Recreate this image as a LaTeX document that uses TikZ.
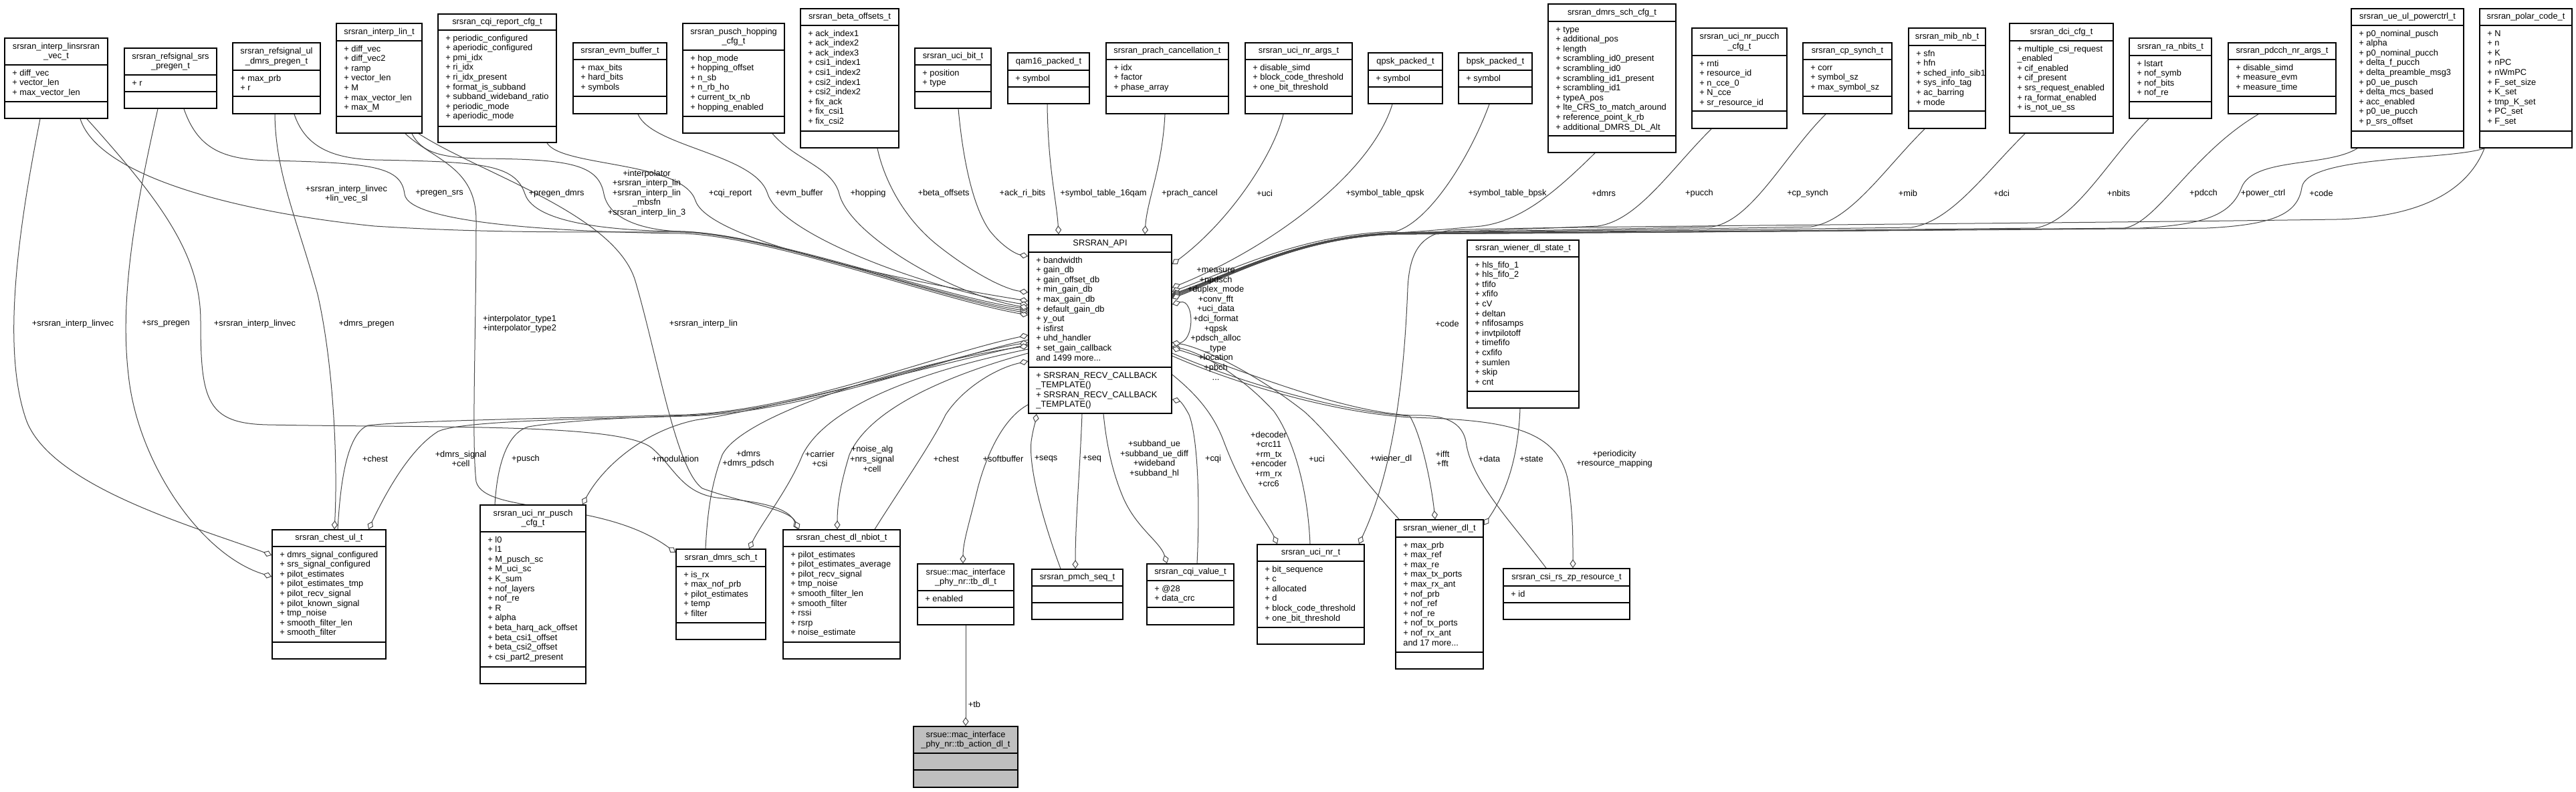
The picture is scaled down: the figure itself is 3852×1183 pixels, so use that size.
\documentclass[tikz,border=0pt]{standalone}
\usepackage{fontspec}
\setmainfont{Liberation Sans}
\usetikzlibrary{arrows.meta,calc,fit}
\pgfdeclarelayer{edges}
\pgfsetlayers{edges,main}
\newcommand\umlfont{\fontsize{6.4pt}{7.3pt}\selectfont}
\tikzset{
  classbox/.style={draw=black, line width=0.8pt, fill=white, inner sep=0pt},
  classsep/.style={draw=black, line width=0.8pt},
  classtitle/.style={align=center, inner sep=0pt, font=\umlfont},
  classattr/.style={align=left, inner sep=0pt, font=\umlfont, anchor=north west},
  elabel/.style={align=center, inner sep=0pt, font=\umlfont},
  edge/.style={draw=black!72, line width=0.5pt},
  agg/.style={edge, -{Diamond[fill=white,length=6.5pt,width=4.6pt]}},
}
% #1 name, #2 x1, #3 y1, #4 x2, #5 y2, #6 sep1, #7 sep2, #8 title, #9 attributes
\newcommand\umlbox[9]{%
  \node[classbox, fit={(#2,#3) (#4,#5)}] (#1) {};
  \draw[classsep] (#2,#6) -- (#4,#6) (#2,#7) -- (#4,#7);
  \node[classtitle] (#1-t) at ($(#2,#3)!0.5!(#4,#6)$) {#8};
  \node[classattr] (#1-a) at (#2+11,#6+5.5) {\strut#9};
}
\begin{document}
\begin{tikzpicture}[x=0.5pt,y=-0.5pt]
\useasboundingbox (0,0) rectangle (3852,1183);

% ---------------- top row ----------------
\umlbox{vec}{7}{57}{161}{177}{97}{152}{srsran\_interp\_linsrsran\\\_vec\_t}{+ diff\_vec\\+ vector\_len\\+ max\_vector\_len}
\umlbox{srspregen}{186}{72}{324}{162}{112}{137}{srsran\_refsignal\_srs\\\_pregen\_t}{+ r}
\umlbox{dmrspregen}{348}{64}{479}{170}{105}{144}{srsran\_refsignal\_ul\\\_dmrs\_pregen\_t}{+ max\_prb\\+ r}
\umlbox{interplin}{503}{35}{631}{199}{61}{174}{srsran\_interp\_lin\_t}{+ diff\_vec\\+ diff\_vec2\\+ ramp\\+ vector\_len\\+ M\\+ max\_vector\_len\\+ max\_M}
\umlbox{cqirep}{655}{21}{832}{213}{45}{189}{srsran\_cqi\_report\_cfg\_t}{+ periodic\_configured\\+ aperiodic\_configured\\+ pmi\_idx\\+ ri\_idx\\+ ri\_idx\_present\\+ format\_is\_subband\\+ subband\_wideband\_ratio\\+ periodic\_mode\\+ aperiodic\_mode}
\umlbox{evm}{857}{64}{997}{170}{89}{144}{srsran\_evm\_buffer\_t}{+ max\_bits\\+ hard\_bits\\+ symbols}
\umlbox{hopping}{1021}{35}{1173}{199}{75}{174}{srsran\_pusch\_hopping\\\_cfg\_t}{+ hop\_mode\\+ hopping\_offset\\+ n\_sb\\+ n\_rb\_ho\\+ current\_tx\_nb\\+ hopping\_enabled}
\umlbox{beta}{1197}{13}{1344}{221}{38}{196}{srsran\_beta\_offsets\_t}{+ ack\_index1\\+ ack\_index2\\+ ack\_index3\\+ csi1\_index1\\+ csi1\_index2\\+ csi2\_index1\\+ csi2\_index2\\+ fix\_ack\\+ fix\_csi1\\+ fix\_csi2}
\umlbox{ucibit}{1368}{72}{1482}{162}{97}{137}{srsran\_uci\_bit\_t}{+ position\\+ type}
\umlbox{qam16}{1507}{79}{1629}{155}{105}{130}{qam16\_packed\_t}{+ symbol}
\umlbox{prach}{1654}{64}{1837}{170}{89}{144}{srsran\_prach\_cancellation\_t}{+ idx\\+ factor\\+ phase\_array}
\umlbox{ucinrargs}{1862}{64}{2022}{170}{89}{144}{srsran\_uci\_nr\_args\_t}{+ disable\_simd\\+ block\_code\_threshold\\+ one\_bit\_threshold}
\umlbox{qpsk}{2046}{79}{2157}{155}{105}{130}{qpsk\_packed\_t}{+ symbol}
\umlbox{bpsk}{2181}{79}{2291}{155}{105}{130}{bpsk\_packed\_t}{+ symbol}
\umlbox{dmrsschcfg}{2315}{6}{2506}{228}{32}{203}{srsran\_dmrs\_sch\_cfg\_t}{+ type\\+ additional\_pos\\+ length\\+ scrambling\_id0\_present\\+ scrambling\_id0\\+ scrambling\_id1\_present\\+ scrambling\_id1\\+ typeA\_pos\\+ lte\_CRS\_to\_match\_around\\+ reference\_point\_k\_rb\\+ additional\_DMRS\_DL\_Alt}
\umlbox{pucchcfg}{2530}{42}{2672}{192}{83}{166}{srsran\_uci\_nr\_pucch\\\_cfg\_t}{+ rnti\\+ resource\_id\\+ n\_cce\_0\\+ N\_cce\\+ sr\_resource\_id}
\umlbox{cpsynch}{2696}{64}{2829}{170}{89}{144}{srsran\_cp\_synch\_t}{+ corr\\+ symbol\_sz\\+ max\_symbol\_sz}
\umlbox{mib}{2854}{42}{2969}{192}{68}{166}{srsran\_mib\_nb\_t}{+ sfn\\+ hfn\\+ sched\_info\_sib1\\+ sys\_info\_tag\\+ ac\_barring\\+ mode}
\umlbox{dcicfg}{3005}{35}{3160}{199}{61}{174}{srsran\_dci\_cfg\_t}{+ multiple\_csi\_request\\\_enabled\\+ cif\_enabled\\+ cif\_present\\+ srs\_request\_enabled\\+ ra\_format\_enabled\\+ is\_not\_ue\_ss}
\umlbox{ranbits}{3184}{57}{3307}{177}{83}{152}{srsran\_ra\_nbits\_t}{+ lstart\\+ nof\_symb\\+ nof\_bits\\+ nof\_re}
\umlbox{pdcchargs}{3332}{64}{3493}{170}{89}{144}{srsran\_pdcch\_nr\_args\_t}{+ disable\_simd\\+ measure\_evm\\+ measure\_time}
\umlbox{powerctrl}{3516}{13}{3684}{221}{38}{196}{srsran\_ue\_ul\_powerctrl\_t}{+ p0\_nominal\_pusch\\+ alpha\\+ p0\_nominal\_pucch\\+ delta\_f\_pucch\\+ delta\_preamble\_msg3\\+ p0\_ue\_pusch\\+ delta\_mcs\_based\\+ acc\_enabled\\+ p0\_ue\_pucch\\+ p\_srs\_offset}
\umlbox{polar}{3708}{13}{3846}{221}{38}{196}{srsran\_polar\_code\_t}{+ N\\+ n\\+ K\\+ nPC\\+ nWmPC\\+ F\_set\_size\\+ K\_set\\+ tmp\_K\_set\\+ PC\_set\\+ F\_set}

% ---------------- middle ----------------
\umlbox{api}{1538}{351}{1752}{618}{377}{549}{SRSRAN\_API}{+ bandwidth\\+ gain\_db\\+ gain\_offset\_db\\+ min\_gain\_db\\+ max\_gain\_db\\+ default\_gain\_db\\+ y\_out\\+ isfirst\\+ uhd\_handler\\+ set\_gain\_callback\\and 1499 more...}
\node[classattr] (api-m) at (1549,554.5) {\strut+ SRSRAN\_RECV\_CALLBACK\\\_TEMPLATE()\\+ SRSRAN\_RECV\_CALLBACK\\\_TEMPLATE()};
\umlbox{wstate}{2194}{359}{2361}{610}{384}{585}{srsran\_wiener\_dl\_state\_t}{+ hls\_fifo\_1\\+ hls\_fifo\_2\\+ tfifo\\+ xfifo\\+ cV\\+ deltan\\+ nfifosamps\\+ invtpilotoff\\+ timefifo\\+ cxfifo\\+ sumlen\\+ skip\\+ cnt}

% ---------------- bottom ----------------
\umlbox{chestul}{407}{792}{577}{985}{817}{960}{srsran\_chest\_ul\_t}{+ dmrs\_signal\_configured\\+ srs\_signal\_configured\\+ pilot\_estimates\\+ pilot\_estimates\_tmp\\+ pilot\_recv\_signal\\+ pilot\_known\_signal\\+ tmp\_noise\\+ smooth\_filter\_len\\+ smooth\_filter}
\umlbox{puschcfg}{718}{755}{876}{1022}{795}{997}{srsran\_uci\_nr\_pusch\\\_cfg\_t}{+ l0\\+ l1\\+ M\_pusch\_sc\\+ M\_uci\_sc\\+ K\_sum\\+ nof\_layers\\+ nof\_re\\+ R\\+ alpha\\+ beta\_harq\_ack\_offset\\+ beta\_csi1\_offset\\+ beta\_csi2\_offset\\+ csi\_part2\_present}
\umlbox{dmrssch}{1011}{821}{1145}{956}{847}{931}{srsran\_dmrs\_sch\_t}{+ is\_rx\\+ max\_nof\_prb\\+ pilot\_estimates\\+ temp\\+ filter}
\umlbox{chestdl}{1171}{792}{1346}{985}{817}{960}{srsran\_chest\_dl\_nbiot\_t}{+ pilot\_estimates\\+ pilot\_estimates\_average\\+ pilot\_recv\_signal\\+ tmp\_noise\\+ smooth\_filter\_len\\+ smooth\_filter\\+ rssi\\+ rsrp\\+ noise\_estimate}
\umlbox{tbdl}{1372}{843}{1516}{934}{883}{908}{srsue::mac\_interface\\\_phy\_nr::tb\_dl\_t}{+ enabled}
\umlbox{pmch}{1543}{851}{1679}{926}{876}{901}{srsran\_pmch\_seq\_t}{}
\umlbox{cqival}{1715}{843}{1845}{934}{868}{908}{srsran\_cqi\_value\_t}{+ @28\\+ data\_crc}
\umlbox{ucinr}{1880}{814}{2040}{963}{839}{938}{srsran\_uci\_nr\_t}{+ bit\_sequence\\+ c\\+ allocated\\+ d\\+ block\_code\_threshold\\+ one\_bit\_threshold}
\umlbox{wienerdl}{2087}{777}{2218}{1000}{803}{975}{srsran\_wiener\_dl\_t}{+ max\_prb\\+ max\_ref\\+ max\_re\\+ max\_tx\_ports\\+ max\_rx\_ant\\+ nof\_prb\\+ nof\_ref\\+ nof\_re\\+ nof\_tx\_ports\\+ nof\_rx\_ant\\and 17 more...}
\umlbox{csirs}{2248}{850}{2437}{926}{876}{901}{srsran\_csi\_rs\_zp\_resource\_t}{+ id}
\begin{scope}[classbox/.append style={fill=black!25}]
\umlbox{tbaction}{1366}{1086}{1522}{1177}{1126}{1151}{srsue::mac\_interface\\\_phy\_nr::tb\_action\_dl\_t}{}
\end{scope}

% ---------------- connectors ----------------
\begin{pgfonlayer}{edges}
% top-left boxes into SRSRAN_API (left side)
\draw[agg] (120,0 |- vec.south) .. controls (150,270) and (380,320) .. (560,338) .. controls (750,350) and (900,346) .. (1018,347) .. controls (1150,350) and (1400,445) .. (api.west |- 0,468);
\draw[agg] (275,0 |- srspregen.south) .. controls (295,220) and (330,238) .. (400,240) .. controls (560,243) and (600,250) .. (605,290) .. controls (610,335) and (850,347) .. (1018,349) .. controls (1150,352) and (1400,447) .. (api.west |- 0,471);
\draw[agg] (440,0 |- dmrspregen.south) .. controls (455,215) and (490,237) .. (560,239) .. controls (720,242) and (770,245) .. (785,290) .. controls (800,335) and (920,345) .. (1018,346) .. controls (1150,350) and (1400,444) .. (api.west |- 0,465);
\draw[agg] (616,0 |- interplin.south) .. controls (630,228) and (660,236) .. (720,237) .. controls (850,238) and (895,245) .. (903,290) .. controls (912,335) and (980,345) .. (1018,346) .. controls (1150,349) and (1400,442) .. (api.west |- 0,462);
\draw[agg] (818,0 |- cqirep.south) .. controls (840,250) and (1020,240) .. (1040,300) .. controls (1060,360) and (1350,420) .. (api.west |- 0,450);
\draw[agg] (954,0 |- evm.south) .. controls (975,220) and (1130,230) .. (1148,290) .. controls (1168,350) and (1380,430) .. (api.west |- 0,456);
\draw[agg] (1155,0 |- hopping.south) .. controls (1190,240) and (1245,250) .. (1255,290) .. controls (1270,350) and (1420,440) .. (api.west |- 0,460);
\draw[agg] (1312,0 |- beta.south) .. controls (1320,260) and (1345,320) .. (1400,365) .. controls (1450,405) and (1500,432) .. (api.west |- 0,437);
\draw[agg] (1433,0 |- ucibit.south) .. controls (1440,240) and (1455,310) .. (1480,345) .. controls (1500,370) and (1520,380) .. (api.west |- 0,383);
% top into SRSRAN_API (top side)
\draw[agg] (1566,0 |- qam16.south) .. controls (1567,250) and (1580,300) .. (1583,0 |- api.north);
\draw[agg] (1742,0 |- prach.south) .. controls (1738,250) and (1715,300) .. (1712,0 |- api.north);
% top-right into SRSRAN_API (right side)
\draw[agg] (1919,0 |- ucinrargs.south) .. controls (1905,230) and (1840,330) .. (api.east |- 0,395);
\draw[agg] (2082,0 |- qpsk.south) .. controls (2050,260) and (1900,370) .. (api.east |- 0,430);
\draw[agg] (2227,0 |- bpsk.south) .. controls (2200,230) and (2140,330) .. (2087,346) .. controls (1950,350) and (1850,400) .. (api.east |- 0,436);
\draw[agg] (2385,0 |- dmrsschcfg.south) .. controls (2325,288) and (2275,330) .. (2215,338) .. controls (2150,344) and (2110,347) .. (2087,348) .. controls (1950,352) and (1850,405) .. (api.east |- 0,440);
\draw[agg] (2559,0 |- pucchcfg.south) .. controls (2499,252) and (2449,330) .. (2389,338) .. controls (2250,344) and (2150,347) .. (2087,348) .. controls (1950,352) and (1850,405) .. (api.east |- 0,440);
\draw[agg] (2730,0 |- cpsynch.south) .. controls (2670,230) and (2620,330) .. (2560,339) .. controls (2350,344) and (2150,347) .. (2087,348) .. controls (1950,352) and (1850,405) .. (api.east |- 0,440);
\draw[agg] (2878,0 |- mib.south) .. controls (2818,252) and (2768,330) .. (2708,339) .. controls (2450,344) and (2200,347) .. (2087,348) .. controls (1950,352) and (1850,405) .. (api.east |- 0,442);
\draw[agg] (3028,0 |- dcicfg.south) .. controls (2968,259) and (2918,331) .. (2858,340) .. controls (2500,345) and (2200,348) .. (2087,349) .. controls (1950,353) and (1850,406) .. (api.east |- 0,442);
\draw[agg] (3213,0 |- ranbits.south) .. controls (3153,237) and (3103,332) .. (3043,341) .. controls (2600,346) and (2200,348) .. (2087,349) .. controls (1950,353) and (1850,406) .. (api.east |- 0,444);
\draw[agg] (3377,0 |- pdcchargs.south) .. controls (3277,230) and (3227,332) .. (3177,341) .. controls (2700,346) and (2200,349) .. (2087,350) .. controls (1950,354) and (1850,407) .. (api.east |- 0,444);
\draw[agg] (3525,0 |- powerctrl.south) .. controls (3480,250) and (3370,235) .. (3352,280) .. controls (3337,320) and (3300,336) .. (3200,341) .. controls (2700,346) and (2200,349) .. (2087,350) .. controls (1950,354) and (1850,408) .. (api.east |- 0,446);
\draw[agg] (3715,0 |- polar.south) .. controls (3660,240) and (3450,232) .. (3442,280) .. controls (3436,320) and (3400,336) .. (3300,341) .. controls (2700,346) and (2200,349) .. (2087,350) .. controls (1950,354) and (1850,408) .. (api.east |- 0,446);
\draw[agg] (3715,0 |- polar.south) .. controls (3690,285) and (3620,325) .. (3494,328) .. controls (3000,335) and (2300,338) .. (2170,344) .. controls (2125,350) and (2108,375) .. (2105,430) .. controls (2100,560) and (2085,700) .. (2032,0 |- ucinr.north);
% self loop
\draw[agg] (api.east |- 0,512) .. controls (1788,525) and (1788,445) .. (api.east |- 0,455);
% left column into chest_ul
\draw[agg] (60,0 |- vec.south) .. controls (30,330) and (0,520) .. (40,630) .. controls (80,730) and (300,790) .. (chestul.west |- 0,830);
\draw[agg] (236,0 |- srspregen.south) .. controls (205,300) and (178,440) .. (192,560) .. controls (205,690) and (300,830) .. (chestul.west |- 0,862);
\draw[agg] (411,0 |- dmrspregen.south) .. controls (412,260) and (445,330) .. (475,440) .. controls (500,550) and (505,700) .. (500,0 |- chestul.north);
% long routes to chest_dl_nbiot and dmrs_sch
\draw[agg] (130,0 |- vec.south) .. controls (240,300) and (300,380) .. (300,480) .. controls (300,600) and (310,633) .. (400,635) .. controls (650,640) and (930,632) .. (975,670) .. controls (1010,700) and (1020,740) .. (1080,745) .. controls (1140,750) and (1180,760) .. (1193,0 |- chestdl.north);
\draw[agg] (626,0 |- interplin.south) .. controls (720,260) and (920,320) .. (950,420) .. controls (985,540) and (1010,700) .. (1050,730) .. controls (1110,752) and (1180,760) .. (1195,0 |- chestdl.north);
\draw[agg] (606,0 |- interplin.south) .. controls (650,240) and (712,250) .. (712,330) .. controls (712,500) and (705,660) .. (712,720) .. controls (725,770) and (900,745) .. (dmrssch.west |- 0,826);
% lower-left bundle
\draw[agg] (505,0 |- chestul.north) .. controls (508,740) and (515,650) .. (550,636) .. controls (620,628) and (900,624) .. (1027,620) .. controls (1200,612) and (1400,530) .. (api.west |- 0,501);
\draw[agg] (api.west |- 0,508) .. controls (1400,538) and (1200,618) .. (1027,622) .. controls (900,626) and (690,628) .. (655,645) .. controls (615,670) and (580,730) .. (551,0 |- chestul.north);
\draw[agg] (740,0 |- puschcfg.north) .. controls (742,720) and (750,650) .. (790,638) .. controls (850,628) and (950,624) .. (1027,621) .. controls (1200,614) and (1400,535) .. (api.west |- 0,512);
\draw[agg] (api.west |- 0,515) .. controls (1400,545) and (1150,612) .. (1040,628) .. controls (960,645) and (900,700) .. (871,0 |- puschcfg.north);
\draw[agg] (1055,0 |- dmrssch.north) .. controls (1058,760) and (1065,720) .. (1080,680) .. controls (1110,620) and (1350,545) .. (api.west |- 0,517);
\draw[agg] (api.west |- 0,522) .. controls (1400,550) and (1240,600) .. (1200,680) .. controls (1180,730) and (1140,780) .. (1120,0 |- dmrssch.north);
\draw[agg] (api.west |- 0,528) .. controls (1420,560) and (1300,610) .. (1270,680) .. controls (1258,720) and (1252,750) .. (1252,0 |- chestdl.north);
\draw[agg] (1308,0 |- chestdl.north) .. controls (1340,740) and (1395,660) .. (1414,620) .. controls (1440,580) and (1490,550) .. (api.west |- 0,540);
% below SRSRAN_API
\draw[agg] (api.west |- 0,605) .. controls (1500,625) and (1475,680) .. (1462,730) .. controls (1450,780) and (1440,810) .. (1440,0 |- tbdl.north);
\draw[agg] (1586,0 |- pmch.north) .. controls (1560,780) and (1538,700) .. (1542,660) .. controls (1545,640) and (1548,632) .. (1550,0 |- api.south);
\draw[agg] (1618,0 |- api.south) .. controls (1615,700) and (1608,780) .. (1608,0 |- pmch.north);
\draw[agg] (1650,0 |- api.south) .. controls (1655,670) and (1665,710) .. (1680,745) .. controls (1700,790) and (1735,810) .. (1745,0 |- cqival.north);
\draw[agg] (1790,0 |- cqival.north) .. controls (1795,740) and (1790,650) .. (1778,620) .. controls (1770,605) and (1765,600) .. (api.east |- 0,597);
\draw[agg] (api.east |- 0,560) .. controls (1790,590) and (1815,620) .. (1830,660) .. controls (1860,740) and (1895,780) .. (1910,0 |- ucinr.north);
\draw[agg] (1959,0 |- ucinr.north) .. controls (1955,720) and (1930,650) .. (1905,615) .. controls (1860,565) and (1800,528) .. (api.east |- 0,518);
\draw[agg] (2092,0 |- wienerdl.north) .. controls (2040,720) and (1990,650) .. (1950,615) .. controls (1880,560) and (1800,520) .. (api.east |- 0,512);
% lower-right bundle
\draw[agg] (api.east |- 0,528) .. controls (1850,570) and (2000,615) .. (2108,622) .. controls (2125,650) and (2140,720) .. (2146,0 |- wienerdl.north);
\draw[agg] (2312,0 |- csirs.north) .. controls (2260,780) and (2200,720) .. (2192,660) .. controls (2185,625) and (2150,620) .. (2110,621) .. controls (2000,615) and (1850,550) .. (api.east |- 0,520);
\draw[agg] (api.east |- 0,532) .. controls (1850,575) and (2000,618) .. (2110,624) .. controls (2250,628) and (2330,640) .. (2345,720) .. controls (2352,770) and (2352,800) .. (2352,0 |- csirs.north);
\draw[agg] (2273,0 |- wstate.south) .. controls (2270,690) and (2250,740) .. (wienerdl.east |- 0,785);
% tb
\draw[agg] (tbdl.south) -- (tbaction.north);
\end{pgfonlayer}

% ---------------- connector labels ----------------
\node[elabel] (lb1) at (518,290) {+srsran\_interp\_linvec\\+lin\_vec\_sl};
\node[elabel] (lb2) at (657,289) {+pregen\_srs};
\node[elabel] (lb3) at (832,289) {+pregen\_dmrs};
\node[elabel] (lb4) at (967,289) {+interpolator\\+srsran\_interp\_lin\\+srsran\_interp\_lin\\\_mbsfn\\+srsran\_interp\_lin\_3};
\node[elabel] (lb5) at (1092,289) {+cqi\_report};
\node[elabel] (lb6) at (1195,289) {+evm\_buffer};
\node[elabel] (lb7) at (1298,289) {+hopping};
\node[elabel] (lb8) at (1411,289) {+beta\_offsets};
\node[elabel] (lb9) at (1529,289) {+ack\_ri\_bits};
\node[elabel] (lb10) at (1650,289) {+symbol\_table\_16qam};
\node[elabel] (lb11) at (1779,289) {+prach\_cancel};
\node[elabel] (lb12) at (1891,289) {+uci};
\node[elabel] (lb13) at (2071,289) {+symbol\_table\_qpsk};
\node[elabel] (lb14) at (2254,289) {+symbol\_table\_bpsk};
\node[elabel] (lb15) at (2398,289) {+dmrs};
\node[elabel] (lb16) at (2541,289) {+pucch};
\node[elabel] (lb17) at (2703,289) {+cp\_synch};
\node[elabel] (lb18) at (2853,289) {+mib};
\node[elabel] (lb19) at (2993,289) {+dci};
\node[elabel] (lb20) at (3168,289) {+nbits};
\node[elabel] (lb21) at (3295,289) {+pdcch};
\node[elabel] (lb22) at (3384,289) {+power\_ctrl};
\node[elabel] (lb23) at (3471,289) {+code};
\node[elabel] (lb24) at (1818,484) {+measure\\+npdsch\\+duplex\_mode\\+conv\_fft\\+uci\_data\\+dci\_format\\+qpsk\\+pdsch\_alloc\\\_type\\+location\\+pbch\\...};
\node[elabel] (lb25) at (109,484) {+srsran\_interp\_linvec};
\node[elabel] (lb26) at (248,484) {+srs\_pregen};
\node[elabel] (lb27) at (381,484) {+srsran\_interp\_linvec};
\node[elabel] (lb28) at (548,484) {+dmrs\_pregen};
\node[elabel] (lb29) at (777,484) {+interpolator\_type1\\+interpolator\_type2};
\node[elabel] (lb30) at (1052,484) {+srsran\_interp\_lin};
\node[elabel] (lb31) at (2164,484) {+code};
\node[elabel] (lb32) at (561,686) {+chest};
\node[elabel] (lb33) at (689,686) {+dmrs\_signal\\+cell};
\node[elabel] (lb34) at (786,686) {+pusch};
\node[elabel] (lb35) at (1010,686) {+modulation};
\node[elabel] (lb36) at (1119,686) {+dmrs\\+dmrs\_pdsch};
\node[elabel] (lb37) at (1226,686) {+carrier\\+csi};
\node[elabel] (lb38) at (1304,686) {+noise\_alg\\+nrs\_signal\\+cell};
\node[elabel] (lb39) at (1415,686) {+chest};
\node[elabel] (lb40) at (1500,686) {+softbuffer};
\node[elabel] (lb41) at (1564,686) {+seqs};
\node[elabel] (lb42) at (1633,686) {+seq};
\node[elabel] (lb43) at (1726,686) {+subband\_ue\\+subband\_ue\_diff\\+wideband\\+subband\_hl};
\node[elabel] (lb44) at (1814,686) {+cqi};
\node[elabel] (lb45) at (1897,686) {+decoder\\+crc11\\+rm\_tx\\+encoder\\+rm\_rx\\+crc6};
\node[elabel] (lb46) at (1969,686) {+uci};
\node[elabel] (lb47) at (2080,686) {+wiener\_dl};
\node[elabel] (lb48) at (2157,686) {+ifft\\+fft};
\node[elabel] (lb49) at (2227,686) {+data};
\node[elabel] (lb50) at (2290,686) {+state};
\node[elabel] (lb51) at (2414,686) {+periodicity\\+resource\_mapping};
\node[elabel] (lb52) at (1457,1053) {+tb};
\end{tikzpicture}
\end{document}
